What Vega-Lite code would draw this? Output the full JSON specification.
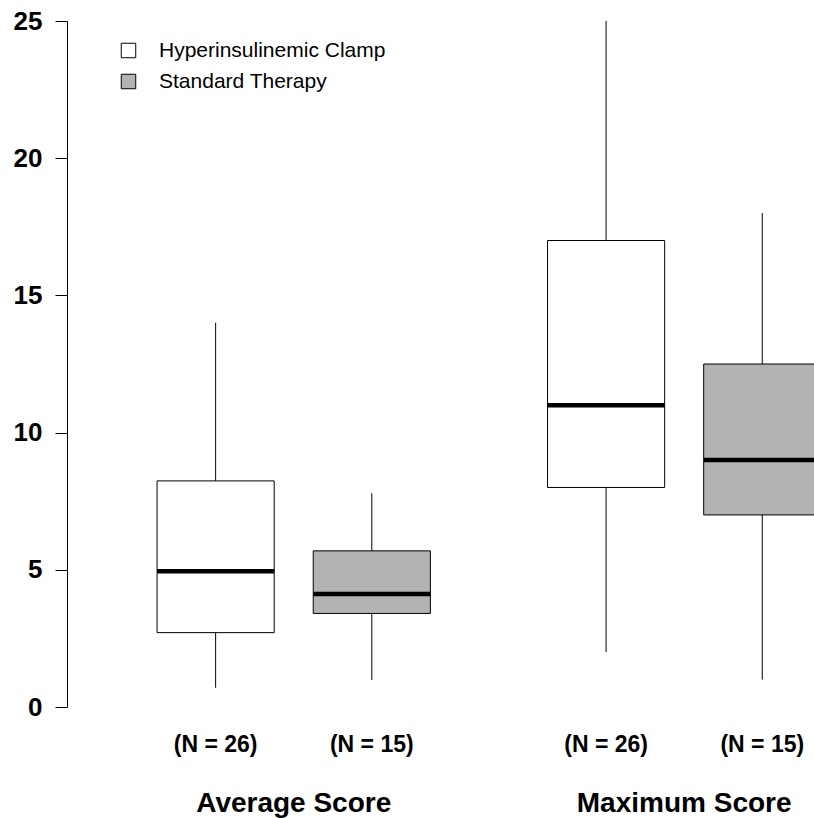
{
  "$schema": "https://vega.github.io/schema/vega-lite/v6.json",
  "autosize": "none",
  "width": 747,
  "height": 686,
  "padding": {"left": 67, "top": 21, "right": 0, "bottom": 111},
  "background": "white",
  "config": {"view": {"stroke": null}, "font": "Liberation Sans"},
  "data": {"values": [
    {"measure": "Average Score", "group": "Hyperinsulinemic Clamp", "nlabel": "(N = 26)", "low": 0.7, "q1": 2.71, "median": 4.95, "q3": 8.24, "high": 14.0},
    {"measure": "Average Score", "group": "Standard Therapy", "nlabel": "(N = 15)", "low": 0.98, "q1": 3.41, "median": 4.12, "q3": 5.69, "high": 7.79},
    {"measure": "Maximum Score", "group": "Hyperinsulinemic Clamp", "nlabel": "(N = 26)", "low": 2.0, "q1": 8.0, "median": 11.0, "q3": 17.0, "high": 25.0},
    {"measure": "Maximum Score", "group": "Standard Therapy", "nlabel": "(N = 15)", "low": 1.0, "q1": 7.0, "median": 9.0, "q3": 12.5, "high": 18.0}
  ]},
  "encoding": {
    "x": {
      "field": "measure", "type": "nominal",
      "scale": {"domain": ["Average Score", "Maximum Score"], "range": [31.5, 812.4], "paddingInner": 0, "paddingOuter": 0},
      "axis": {
        "title": null, "domain": false, "ticks": false, "tickSize": 0, "labelAngle": 0,
        "labelFontSize": 28, "labelFontWeight": "bold", "labelColor": "black",
        "labelFont": "Liberation Sans", "labelBaseline": "alphabetic", "labelPadding": 104,
        "labelOverlap": false, "labelBound": false, "labelFlush": false, "labelLimit": 0
      }
    },
    "xOffset": {
      "field": "group", "type": "nominal",
      "scale": {"domain": ["Hyperinsulinemic Clamp", "Standard Therapy"], "paddingInner": 0.25, "paddingOuter": 0.375}
    }
  },
  "layer": [
    {
      "mark": {"type": "rule", "color": "black", "strokeWidth": 1},
      "encoding": {
        "y": {"field": "low", "type": "quantitative", "scale": {"domain": [0, 25], "nice": false, "zero": true},
          "axis": {"title": null, "values": [0, 5, 10, 15, 20, 25], "grid": false, "domainColor": "black", "domainWidth": 1,
            "tickColor": "black", "tickSize": 12, "tickWidth": 1, "labelFontSize": 26, "labelFontWeight": "bold",
            "labelColor": "black", "labelFont": "Liberation Sans", "labelPadding": 13}},
        "y2": {"field": "q1"}
      }
    },
    {
      "mark": {"type": "rule", "color": "black", "strokeWidth": 1},
      "encoding": {
        "y": {"field": "q3", "type": "quantitative"},
        "y2": {"field": "high"}
      }
    },
    {
      "mark": {"type": "bar", "stroke": "black", "strokeWidth": 1, "clip": true},
      "encoding": {
        "y": {"field": "q1", "type": "quantitative"},
        "y2": {"field": "q3"},
        "color": {
          "field": "group", "type": "nominal",
          "scale": {"domain": ["Hyperinsulinemic Clamp", "Standard Therapy"], "range": ["white", "#b3b3b3"]},
          "legend": {
            "title": null, "orient": "none", "legendX": 51, "legendY": 19,
            "symbolType": "square", "symbolSize": 210, "symbolStrokeColor": "black", "symbolStrokeWidth": 1,
            "labelFontSize": 21, "labelFont": "Liberation Sans", "labelColor": "black", "labelLimit": 0,
            "labelOffset": 20, "rowPadding": 9, "padding": 0
          }
        }
      }
    },
    {
      "mark": {"type": "tick", "orient": "horizontal", "color": "black", "size": 117, "thickness": 4.5, "opacity": 1, "clip": true},
      "encoding": {
        "y": {"field": "median", "type": "quantitative"}
      }
    },
    {
      "mark": {"type": "text", "fontSize": 23, "fontWeight": "bold", "font": "Liberation Sans", "color": "black", "baseline": "alphabetic", "dy": 45, "clip": false},
      "encoding": {
        "y": {"datum": 0, "type": "quantitative"},
        "text": {"field": "nlabel"}
      }
    }
  ]
}
